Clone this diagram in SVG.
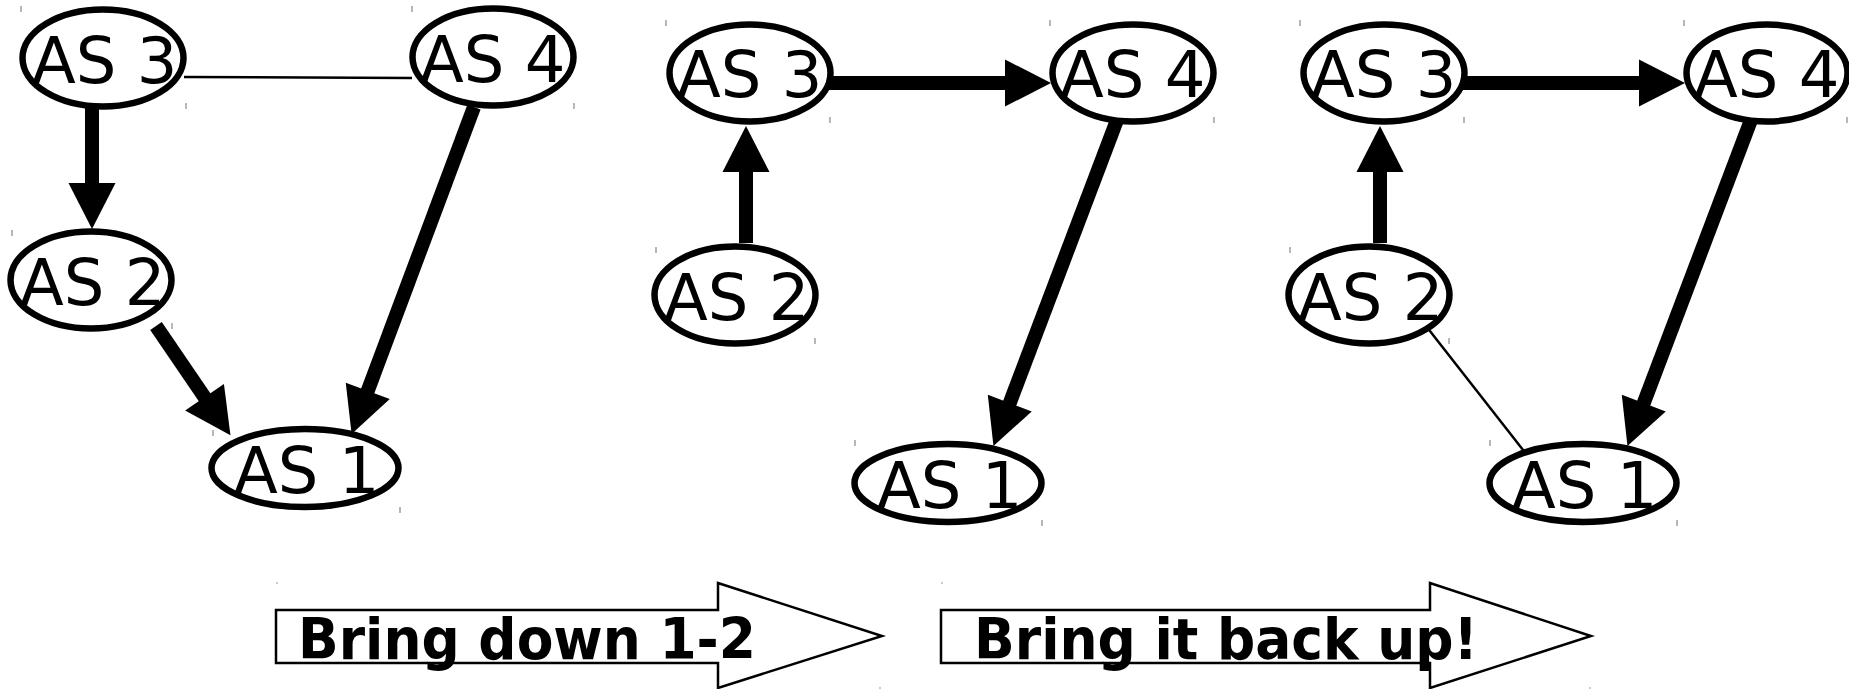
<svg xmlns="http://www.w3.org/2000/svg" width="1849" height="689" viewBox="0 0 1849 689">
  <style>
    .node ellipse { fill: #fff; stroke: #000; stroke-width: 6.5; }
    .node text { font-family: "DejaVu Sans", "Liberation Sans", sans-serif; font-size: 64px; fill: #000; }
    .tick { stroke: #888; stroke-width: 1.2; }
    .thick { stroke: #000; stroke-width: 14; fill: none; marker-end: url(#head); }
    .thin { stroke: #000; stroke-width: 2.5; fill: none; }
    .step path { fill: #fff; stroke: #000; stroke-width: 2.5; }
    .step text { font-family: "DejaVu Sans", "Liberation Sans", sans-serif; font-weight: bold; font-size: 57px; fill: #000; }
  </style>
  <defs>
    <marker id="head" markerUnits="userSpaceOnUse" viewBox="0 -24 47 48" refX="1" refY="0" markerWidth="47" markerHeight="48" orient="auto" overflow="visible">
      <path d="M0,-23.5 L46,0 L0,23.5 Z" fill="#000"/>
    </marker>
  </defs>
  <rect width="1849" height="689" fill="#fff"/>

  <!-- links between autonomous systems -->
  <g id="connectors">
    <!-- before: 3-4 idle, 3->2, 2->1, 4->1 -->
    <line class="thin" x1="184" y1="77" x2="412" y2="78"/>
    <line class="thick" x1="92" y1="104" x2="92" y2="184"/>
    <line class="thick" x1="156" y1="326" x2="205.1" y2="398"/>
    <line class="thick" x1="474" y1="107" x2="367.4" y2="391.8"/>
    <!-- after 1-2 goes down -->
    <line class="thick" x1="829" y1="83" x2="1006" y2="83"/>
    <line class="thick" x1="746" y1="243" x2="746" y2="171"/>
    <line class="thick" x1="1117" y1="120" x2="1009.4" y2="404"/>
    <!-- after 1-2 comes back up -->
    <line class="thick" x1="1463" y1="83" x2="1640" y2="83"/>
    <line class="thick" x1="1380" y1="243" x2="1380" y2="171"/>
    <line class="thick" x1="1751" y1="120" x2="1643.4" y2="404"/>
    <line class="thin" x1="1426" y1="326" x2="1527" y2="455"/>
  </g>

  <!-- first state -->
  <g id="p1-as3" class="node">
    <ellipse cx="103" cy="58" rx="80.5" ry="48.5"/>
    <text x="32" y="83">AS 3</text>
    <line class="tick" x1="21" y1="6" x2="21" y2="12"/><line class="tick" x1="186" y1="103" x2="186" y2="109"/>
  </g>
  <g id="p1-as4" class="node">
    <ellipse cx="493" cy="57" rx="80.5" ry="48.5"/>
    <text x="420" y="82">AS 4</text>
    <line class="tick" x1="412" y1="6" x2="412" y2="12"/><line class="tick" x1="574" y1="103" x2="574" y2="109"/>
  </g>
  <g id="p1-as2" class="node">
    <ellipse cx="91" cy="280" rx="80.5" ry="48.5"/>
    <text x="20" y="305">AS 2</text>
    <line class="tick" x1="12" y1="230" x2="12" y2="236"/><line class="tick" x1="172" y1="323" x2="172" y2="329"/>
  </g>
  <g id="p1-as1" class="node">
    <ellipse cx="305" cy="468" rx="93.5" ry="39"/>
    <text x="234" y="493">AS 1</text>
    <line class="tick" x1="213" y1="430" x2="213" y2="436"/><line class="tick" x1="400" y1="507" x2="400" y2="513"/>
  </g>

  <!-- second state -->
  <g id="p2-as3" class="node">
    <ellipse cx="750" cy="73" rx="80.5" ry="48.5"/>
    <text x="677" y="97">AS 3</text>
    <line class="tick" x1="666" y1="20" x2="666" y2="26"/><line class="tick" x1="830" y1="117" x2="830" y2="123"/>
  </g>
  <g id="p2-as4" class="node">
    <ellipse cx="1133" cy="73" rx="80.5" ry="48.5"/>
    <text x="1060" y="97">AS 4</text>
    <line class="tick" x1="1050" y1="20" x2="1050" y2="26"/><line class="tick" x1="1214" y1="117" x2="1214" y2="123"/>
  </g>
  <g id="p2-as2" class="node">
    <ellipse cx="735" cy="295" rx="80.5" ry="48.5"/>
    <text x="664" y="320">AS 2</text>
    <line class="tick" x1="656" y1="247" x2="656" y2="253"/><line class="tick" x1="815" y1="338" x2="815" y2="344"/>
  </g>
  <g id="p2-as1" class="node">
    <ellipse cx="948" cy="483" rx="93.5" ry="39"/>
    <text x="877" y="508">AS 1</text>
    <line class="tick" x1="855" y1="440" x2="855" y2="446"/><line class="tick" x1="1042" y1="520" x2="1042" y2="526"/>
  </g>

  <!-- third state -->
  <g id="p3-as3" class="node">
    <ellipse cx="1384" cy="73" rx="80.5" ry="48.5"/>
    <text x="1311" y="97">AS 3</text>
    <line class="tick" x1="1300" y1="20" x2="1300" y2="26"/><line class="tick" x1="1464" y1="117" x2="1464" y2="123"/>
  </g>
  <g id="p3-as4" class="node">
    <ellipse cx="1767" cy="73" rx="80.5" ry="48.5"/>
    <text x="1694" y="97">AS 4</text>
    <line class="tick" x1="1684" y1="20" x2="1684" y2="26"/><line class="tick" x1="1847" y1="117" x2="1847" y2="123"/>
  </g>
  <g id="p3-as2" class="node">
    <ellipse cx="1369" cy="295" rx="80.5" ry="48.5"/>
    <text x="1298" y="320">AS 2</text>
    <line class="tick" x1="1290" y1="247" x2="1290" y2="253"/><line class="tick" x1="1449" y1="338" x2="1449" y2="344"/>
  </g>
  <g id="p3-as1" class="node">
    <ellipse cx="1583" cy="483" rx="93.5" ry="39"/>
    <text x="1512" y="508">AS 1</text>
    <line class="tick" x1="1490" y1="440" x2="1490" y2="446"/><line class="tick" x1="1677" y1="520" x2="1677" y2="526"/>
  </g>

  <!-- transition banners -->
  <g id="step-down" class="step">
    <path d="M276,610 H718 V583 L882,636 L718,688 V663 H276 Z"/>
    <text x="298" y="659" textLength="458" lengthAdjust="spacingAndGlyphs">Bring down 1-2</text>
    <circle cx="277" cy="583" r="0.8" fill="#888"/><circle cx="880" cy="688" r="0.8" fill="#888"/>
  </g>
  <g id="step-up" class="step">
    <path d="M941,610 H1430 V583 L1591,636 L1430,688 V663 H941 Z"/>
    <text x="974" y="659" textLength="504" lengthAdjust="spacingAndGlyphs">Bring it back up!</text>
    <circle cx="942" cy="583" r="0.8" fill="#888"/><circle cx="1590" cy="688" r="0.8" fill="#888"/>
  </g>
</svg>
